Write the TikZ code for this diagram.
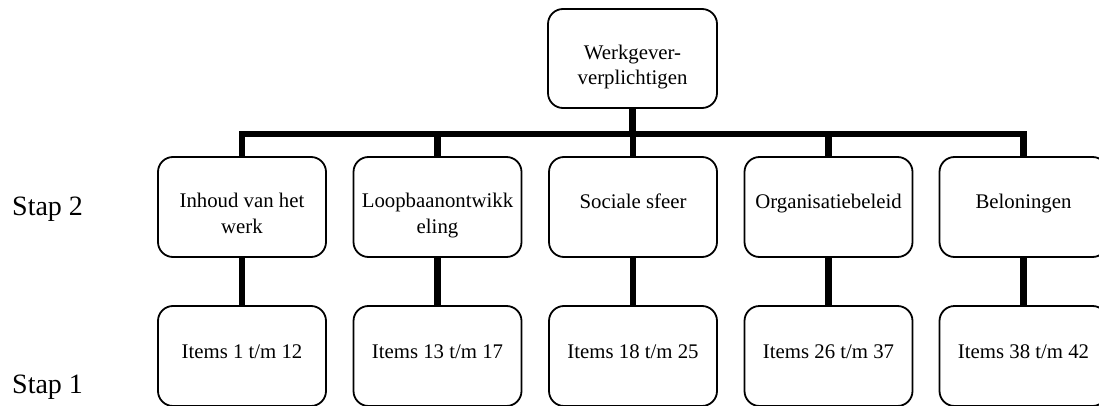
\documentclass[tikz,border=0pt]{standalone}
\usepackage{fontspec}
\setmainfont{Liberation Serif}
\begin{document}
\begin{tikzpicture}[x=1pt,y=-1pt,
  box/.style={draw, line width=1.8pt, rounded corners=15pt, minimum width=168pt, minimum height=100pt, inner sep=0pt},
  txt/.style={font=\fontsize{20.8}{25}\selectfont, align=center, anchor=base, inner sep=0pt},
  stap/.style={font=\fontsize{28}{33}\selectfont, anchor=base west, inner sep=0pt},
  conn/.style={line width=6.5pt}]
\useasboundingbox (0,0) rectangle (1099,406);
% boxes
\node[box, minimum width=169pt, minimum height=99pt] (top) at (632.5,58.5) {};
\node[box] (a2) at (242,207) {};
\node[box] (b2) at (437.5,207) {};
\node[box] (c2) at (633,207) {};
\node[box] (d2) at (828.5,207) {};
\node[box] (e2) at (1023.5,207) {};
\node[box] (a1) at (242,356) {};
\node[box] (b1) at (437.5,356) {};
\node[box] (c1) at (633,356) {};
\node[box] (d1) at (828.5,356) {};
\node[box] (e1) at (1023.5,356) {};
% connectors
\coordinate (bar) at (632.5,134);
\draw[conn] (a2.north) |- (bar) -| (e2.north);
\draw[conn] (top.south) -- (bar);
\draw[conn] (b2.north) -- (b2.north |- bar);
\draw[conn] (c2.north) -- (c2.north |- bar);
\draw[conn] (d2.north) -- (d2.north |- bar);
\draw[conn] (a2.south) -- (a1.north);
\draw[conn] (b2.south) -- (b1.north);
\draw[conn] (c2.south) -- (c1.north);
\draw[conn] (d2.south) -- (d1.north);
\draw[conn] (e2.south) -- (e1.north);
% texts (multi-line nodes: base is the last line)
\node[txt] (ttop) at (632.5,85) {Werkgever-\\verplichtigen};
\node[txt] (ta2) at (242,233) {Inhoud van het\\werk};
\node[txt] (tb2) at (437.5,233) {Loopbaanontwikk\\eling};
\node[txt] (tc2) at (633,208) {Sociale sfeer};
\node[txt] (td2) at (828.5,208) {Organisatiebeleid};
\node[txt] (te2) at (1023.5,208) {Beloningen};
\node[txt] (ta1) at (242,358) {Items 1 t/m 12};
\node[txt] (tb1) at (437.5,358) {Items 13 t/m 17};
\node[txt] (tc1) at (633,358) {Items 18 t/m 25};
\node[txt] (td1) at (828.5,358) {Items 26 t/m 37};
\node[txt] (te1) at (1023.5,358) {Items 38 t/m 42};
\node[stap] (s2) at (12,215) {Stap 2};
\node[stap] (s1) at (12,393) {Stap 1};
\end{tikzpicture}
\end{document}
